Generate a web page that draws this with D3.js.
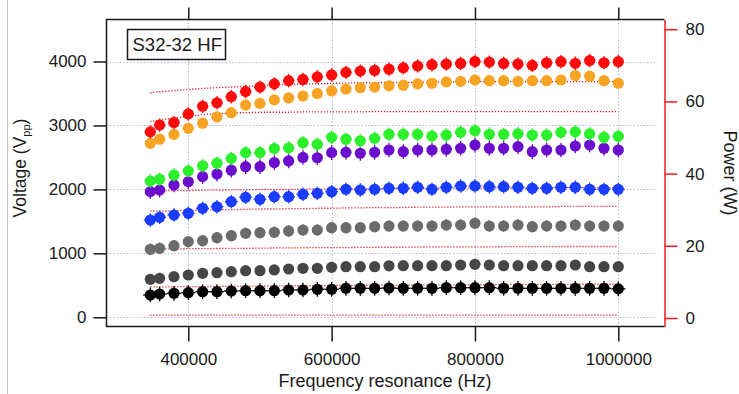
<!DOCTYPE html>
<html><head><meta charset="utf-8">
<script src="https://cdn.jsdelivr.net/npm/d3@7"></script>
<style>
html,body{margin:0;padding:0;background:#fff;}
svg{display:block;font-family:"Liberation Sans",Arial,Helvetica,sans-serif;}
</style>
</head><body>
<svg id="chart" width="739" height="394"></svg>
<script>
// ---------------- DATA ----------------
const freqs = [347000,360000,380000,400000,420000,440000,460000,480000,500000,520000,
  540000,560000,580000,600000,620000,640000,660000,680000,700000,720000,
  740000,760000,780000,800000,820000,840000,860000,880000,900000,920000,
  940000,960000,980000,1000000];

const voltRed = [2900,3005,3045,3180,3300,3355,3450,3530,3600,3650,3700,3720,3760,3790,3830,3850,3860,3880,3900,3930,3950,3960,3970,4000,3990,3970,3960,3940,3980,3997,3972,4015,3981,3997];
const voltOrange = [2720,2785,2860,2955,3035,3135,3200,3320,3345,3400,3430,3460,3500,3540,3570,3590,3600,3620,3630,3650,3660,3680,3690,3710,3700,3700,3690,3700,3700,3711,3780,3770,3700,3660];
const voltGreen = [2130,2160,2225,2290,2370,2410,2485,2575,2575,2640,2650,2730,2705,2815,2785,2760,2800,2862,2862,2862,2835,2850,2893,2918,2862,2862,2870,2850,2850,2893,2900,2870,2815,2830];
const voltPurple = [1965,1990,2070,2120,2200,2240,2300,2355,2355,2420,2445,2500,2495,2575,2580,2565,2580,2616,2590,2616,2616,2627,2643,2694,2643,2643,2668,2590,2616,2616,2679,2694,2643,2616];
const voltBlue = [1521,1564,1600,1626,1704,1729,1808,1876,1845,1886,1886,1923,1939,1964,2002,1991,2002,2017,2017,2033,2002,2033,2053,2053,2042,2042,2033,2017,2017,2033,2033,2002,2002,2002];
const voltGrey = [1063,1079,1120,1183,1198,1245,1276,1314,1323,1329,1350,1365,1365,1401,1401,1401,1417,1428,1428,1428,1428,1443,1443,1470,1428,1428,1443,1417,1428,1428,1443,1428,1428,1428];
const voltDarkGrey = [594,610,635,661,688,697,713,729,729,740,755,766,766,782,791,791,791,805,807,807,807,807,818,829,818,807,807,807,807,807,818,791,791,791];
const voltBlack = [349,364,375,385,400,400,411,416,416,416,427,427,438,438,453,453,453,458,453,453,453,463,463,463,463,453,453,453,453,453,453,453,453,445];

const seriesNames = ["black","darkgrey","grey","blue","purple","green","orange","red"];
const seriesErrV  = [115, 0, 90, 105, 115, 105, 80, 105];        // voltage error (V)
const seriesErrHz = [10000, 0, 4000, 9000, 5000, 8000, 5000, 8000]; // frequency error (Hz)

const powerA = [0.8,0.8,0.8,0.8,0.8,0.8,0.8,0.8,0.8,0.8,0.8,0.8,0.8,0.8,0.8,0.8,0.8,0.8,0.8,0.8,0.8,0.8,0.8,0.8,0.8,0.8,0.8,0.8,0.8,0.8,0.8,0.8,0.8,0.8];
const powerB = [8.6,8.6,8.65,8.7,8.7,8.75,8.8,8.8,8.85,8.9,8.9,8.95,9.0,9.0,9.0,9.05,9.1,9.1,9.1,9.15,9.2,9.2,9.2,9.25,9.25,9.3,9.3,9.3,9.3,9.3,9.35,9.35,9.35,9.35];
const powerC = [19.1,19.1,19.15,19.2,19.2,19.25,19.3,19.3,19.35,19.4,19.4,19.45,19.5,19.5,19.5,19.55,19.6,19.6,19.6,19.65,19.7,19.7,19.7,19.7,19.7,19.75,19.75,19.75,19.75,19.8,19.8,19.8,19.8,19.8];
const powerD = [29.6,29.6,29.7,29.8,29.9,30.0,30.0,30.1,30.2,30.2,30.3,30.3,30.4,30.4,30.5,30.5,30.6,30.6,30.6,30.7,30.7,30.7,30.8,30.8,30.8,30.8,30.8,30.8,30.8,30.9,30.9,30.9,30.9,30.9];
const powerE = [35.2,35.2,35.3,35.3,35.4,35.4,35.5,35.5,35.6,35.6,35.6,35.7,35.7,35.7,35.8,35.8,35.8,35.9,35.9,35.9,35.9,36.0,36.0,36.0,36.0,36.0,36.0,36.0,36.1,36.1,36.1,36.1,36.1,36.1];
const powerF = [54.4,54.8,55.4,55.9,56.3,56.6,56.8,56.9,57.0,57.0,57.0,57.1,57.1,57.1,57.1,57.1,57.2,57.2,57.2,57.2,57.2,57.2,57.2,57.2,57.2,57.2,57.2,57.2,57.2,57.2,57.2,57.2,57.2,57.2];
const powerG = [62.4,62.7,63.0,63.3,63.6,63.8,64.0,64.2,64.4,64.6,64.7,64.8,64.9,65.0,65.1,65.2,65.2,65.3,65.3,65.3,65.4,65.4,65.4,65.5,65.5,65.5,65.5,65.5,65.5,65.5,65.5,65.5,65.5,65.5];

const xTicks = [400000,600000,800000,1000000];
const yLeftTicks = [0,1000,2000,3000,4000];
const yRightTicks = [0,20,40,60,80];
const legendLabel = "S32-32 HF";

// ---------------- STYLES / LAYOUT ----------------
const colors = {black:"#000000",darkgrey:"#464646",grey:"#6b6b6b",blue:"#1a3cff",
  purple:"#6a0dcc",green:"#2bf02b",orange:"#f7a424",red:"#ff0a0a"};
const voltSeries = [voltBlack,voltDarkGrey,voltGrey,voltBlue,voltPurple,voltGreen,voltOrange,voltRed];
const powerSeries = [powerA,powerB,powerC,powerD,powerE,powerF,powerG];

const L = 106.5, R = 664.5, T = 19.5, B = 326.5;
const svg = d3.select("#chart");

const x = d3.scaleLinear().domain([285860, 1064465]).range([L, R]);
const yL = d3.scaleLinear().domain([-144, 4657]).range([B, T]);
const yR = d3.scaleLinear().domain([-2.36, 82.7]).range([B, T]);

// page border artifact
svg.append("line").attr("x1",7.5).attr("x2",7.5).attr("y1",0).attr("y2",394)
  .attr("stroke","#c8c8c8").attr("stroke-width",1);

// grid
const grid = svg.append("g").attr("stroke","#a9a9e6").attr("stroke-width",1).attr("stroke-dasharray","1.2,2.2");
grid.selectAll(".vg").data(xTicks).join("line")
  .attr("x1",d=>Math.round(x(d))+0.5).attr("x2",d=>Math.round(x(d))+0.5).attr("y1",T).attr("y2",B);
grid.selectAll(".hg").data(yLeftTicks).join("line")
  .attr("x1",L).attr("x2",655).attr("y1",d=>Math.round(yL(d))+0.5).attr("y2",d=>Math.round(yL(d))+0.5);

// power lines (right axis)
const pline = d3.line().x((d,i)=>x(freqs[i])).y(d=>yR(d));
svg.append("g").selectAll("path").data(powerSeries).join("path")
  .attr("d", d=>pline(d)).attr("fill","none").attr("stroke","#e8141e")
  .attr("stroke-width",1.3).attr("stroke-dasharray","1.2,1.8");

// voltage series with error bars
voltSeries.forEach((vals, si) => {
  const c = colors[seriesNames[si]];
  const g = svg.append("g");
  const eV = seriesErrV[si], eH = seriesErrHz[si];
  vals.forEach((v, i) => {
    const f = freqs[i];
    if (eV > 0) g.append("line").attr("x1",x(f)).attr("x2",x(f)).attr("y1",yL(v-eV)).attr("y2",yL(v+eV))
      .attr("stroke",c).attr("stroke-width",1.3);
    if (eH > 0) g.append("line").attr("x1",x(f-eH)).attr("x2",x(f+eH)).attr("y1",yL(v)).attr("y2",yL(v))
      .attr("stroke",c).attr("stroke-width",1.3);
    g.append("circle").attr("cx",x(f)).attr("cy",yL(v)).attr("r",5.6).attr("fill",c);
  });
});

// frame
svg.append("path").attr("d",`M${R},${T}H${L}V${B}H${R}`).attr("fill","none")
  .attr("stroke","#1a1a1a").attr("stroke-width",1.5);

const fs = "17px";
// left axis
const axL = svg.append("g").attr("transform",`translate(${L},0)`)
  .call(d3.axisLeft(yL).tickValues(yLeftTicks).tickSize(13).tickPadding(7).tickFormat(d3.format("d")));
axL.select(".domain").remove();
axL.selectAll(".tick line").attr("stroke","#1a1a1a").attr("stroke-width",1.5);
axL.selectAll("text").attr("font-size",fs).attr("fill","#1a1a1a").attr("font-family","Liberation Sans, Arial, sans-serif");

// bottom axis
const axB = svg.append("g").attr("transform",`translate(0,${B})`)
  .call(d3.axisBottom(x).tickValues(xTicks).tickSize(15).tickPadding(11).tickFormat(d3.format("d")));
axB.select(".domain").remove();
axB.selectAll(".tick line").attr("stroke","#1a1a1a").attr("stroke-width",1.5);
axB.selectAll("text").attr("font-size",fs).attr("fill","#1a1a1a").attr("font-family","Liberation Sans, Arial, sans-serif");

// top axis (ticks only)
const axT = svg.append("g").attr("transform",`translate(0,${T})`)
  .call(d3.axisTop(x).tickValues(xTicks).tickSize(12).tickFormat(""));
axT.select(".domain").remove();
axT.selectAll(".tick line").attr("stroke","#1a1a1a").attr("stroke-width",1.5);

// right axis (red)
const axR = svg.append("g").attr("transform",`translate(${R},0)`)
  .call(d3.axisRight(yR).tickValues(yRightTicks).tickSize(13).tickSizeOuter(0).tickPadding(8));
axR.select(".domain").attr("stroke","#ff1a1a").attr("stroke-width",1.5);
axR.selectAll(".tick line").attr("stroke","#ff1a1a").attr("stroke-width",1.5);
axR.selectAll("text").attr("font-size",fs).attr("fill","#1a1a1a").attr("font-family","Liberation Sans, Arial, sans-serif");

// axis titles
svg.append("text").attr("x",385).attr("y",387).attr("text-anchor","middle")
  .attr("font-size","18px").attr("fill","#1a1a1a").text("Frequency resonance (Hz)");

const vt = svg.append("text").attr("transform","translate(26,168) rotate(-90)")
  .attr("text-anchor","middle").attr("font-size","17.5px").attr("fill","#1a1a1a");
vt.append("tspan").text("Voltage (V");
vt.append("tspan").attr("font-size","11px").attr("dy",4).text("pp");
vt.append("tspan").attr("dy",-4).text(")");

svg.append("text").attr("transform","translate(724,173) rotate(90)")
  .attr("text-anchor","middle").attr("font-size","18px").attr("fill","#1a1a1a").text("Power (W)");

// legend box
svg.append("rect").attr("x",127.5).attr("y",29.5).attr("width",98).attr("height",30)
  .attr("fill","#fff").attr("stroke","#1a1a1a").attr("stroke-width",1.5);
svg.append("text").attr("x",132.5).attr("y",51).attr("font-size","18.5px").attr("fill","#1a1a1a").text(legendLabel);
</script>
</body></html>
